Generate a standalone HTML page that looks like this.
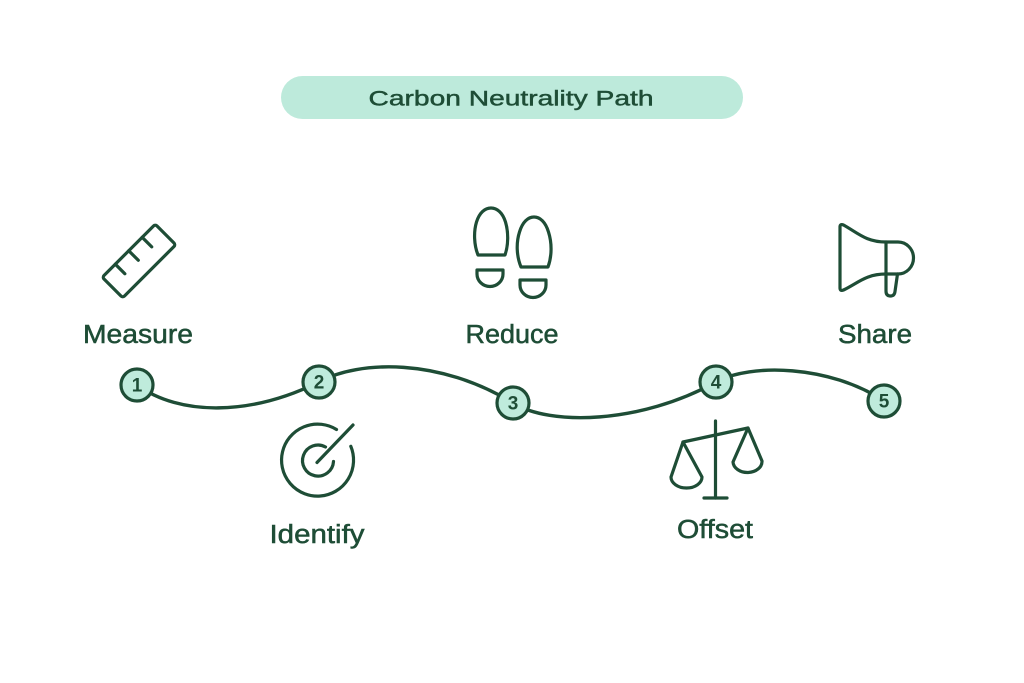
<!DOCTYPE html>
<html>
<head>
<meta charset="utf-8">
<style>
  html, body { margin:0; padding:0; background:#ffffff; }
  body { width:1024px; height:683px; overflow:hidden; }
  svg { display:block; }
  .lbl { font-family:"Liberation Sans", sans-serif; font-size:25.5px; fill:#1e4d36; stroke:#1e4d36; stroke-width:0.5px; }
  .num { font-family:"Liberation Sans", sans-serif; font-size:19px; font-weight:bold; fill:#1e4d36; }
</style>
</head>
<body>
<svg width="1024" height="683" viewBox="0 0 1024 683" xmlns="http://www.w3.org/2000/svg">
  <rect width="1024" height="683" fill="#ffffff"/>

  <!-- Title pill -->
  <rect x="281" y="76" width="462" height="43" rx="21.5" fill="#bdeadb"/>
  <text x="511" y="105.5" text-anchor="middle" font-family="Liberation Sans, sans-serif" font-size="21.5" fill="#1e4d36" stroke="#1e4d36" stroke-width="0.45" textLength="285" lengthAdjust="spacingAndGlyphs">Carbon Neutrality Path</text>

  <g fill="none" stroke="#1e4d36" stroke-width="3.2" stroke-linecap="round" stroke-linejoin="round">
    <!-- Path curve -->
    <path d="M137,385 C180,416 250,416 319,382 C359,360 440,358 513,403 C550,426 640,424 716,382 C750,363 830,365 884,401" stroke-width="3.4"/>

    <!-- Ruler -->
    <g transform="translate(139,261) rotate(-45)">
      <rect x="-37.5" y="-14.5" width="75" height="29" rx="2.5"/>
      <line x1="-19" y1="-14.5" x2="-19" y2="-1"/>
      <line x1="0" y1="-14.5" x2="0" y2="-1"/>
      <line x1="19" y1="-14.5" x2="19" y2="-1"/>
    </g>

    <!-- Target -->
    <path d="M336.5,429.5 A36,36 0 1 0 350.8,446.3"/>
    <path d="M325.5,447 A15.5,15.5 0 1 0 333.5,461.5"/>
    <line x1="317" y1="462.5" x2="353" y2="425"/>

    <!-- Footprints -->
    <path d="M478,255 L505,255 C508.5,245 508.5,232 505.5,222 C502.5,212.5 497,208 491,208 C485,208 479.5,212.5 476.5,222 C473.5,232 474,245 478,255 Z"/>
    <path d="M477,270 H503 V274 A13,12.5 0 0 1 477,274 Z"/>
    <g transform="translate(43,11)">
      <path d="M478,256 L505,256 C509,245 509,232 505.5,221 C502.5,211 497,206 491,206 C485,206 479.5,211 476.5,221 C473,232 473.5,245 478,256 Z"/>
      <path d="M477,269 H503 V274 A13,12.5 0 0 1 477,274 Z"/>
    </g>

    <!-- Megaphone -->
    <path d="M840,227 Q840,223.5 843.5,225 C858,233 866,242 886,242 L898,242 A15.5,16 0 0 1 898,274 L886,274 C866,274 858,283 843.5,290 Q840,291.5 840,288 Z"/>
    <line x1="886" y1="242" x2="886" y2="274"/>
    <path d="M886,274 L886,291 Q886,296 890.5,296 Q894.5,296 895,291.5 L897.5,274"/>

    <!-- Scales -->
    <line x1="715.5" y1="421" x2="715.5" y2="498"/>
    <line x1="704" y1="498" x2="727" y2="498"/>
    <line x1="683" y1="442" x2="748" y2="428"/>
    <path d="M683,442 L671,477 A15.5,11 0 0 0 702,477 Z"/>
    <path d="M748,428 L733,462 A14.5,11 0 0 0 762,461 Z"/>
  </g>

  <!-- Number circles -->
  <g fill="#bfebdc" stroke="#1e4d36" stroke-width="3.2">
    <circle cx="137" cy="385" r="16"/>
    <circle cx="319" cy="382" r="16"/>
    <circle cx="513" cy="403" r="16"/>
    <circle cx="716" cy="382" r="16"/>
    <circle cx="884" cy="401" r="16"/>
  </g>
  <g class="num" text-anchor="middle">
    <text x="137" y="391.5">1</text>
    <text x="319" y="388.5">2</text>
    <text x="513" y="409.5">3</text>
    <text x="716" y="388.5">4</text>
    <text x="884" y="407.5">5</text>
  </g>

  <!-- Labels -->
  <text class="lbl" x="138" y="343" text-anchor="middle" textLength="110" lengthAdjust="spacingAndGlyphs">Measure</text>
  <text class="lbl" x="317" y="543" text-anchor="middle" textLength="95" lengthAdjust="spacingAndGlyphs">Identify</text>
  <text class="lbl" x="512" y="343" text-anchor="middle" textLength="93" lengthAdjust="spacingAndGlyphs">Reduce</text>
  <text class="lbl" x="715" y="538" text-anchor="middle" textLength="76" lengthAdjust="spacingAndGlyphs">Offset</text>
  <text class="lbl" x="875" y="343" text-anchor="middle" textLength="74" lengthAdjust="spacingAndGlyphs">Share</text>
</svg>
</body>
</html>
